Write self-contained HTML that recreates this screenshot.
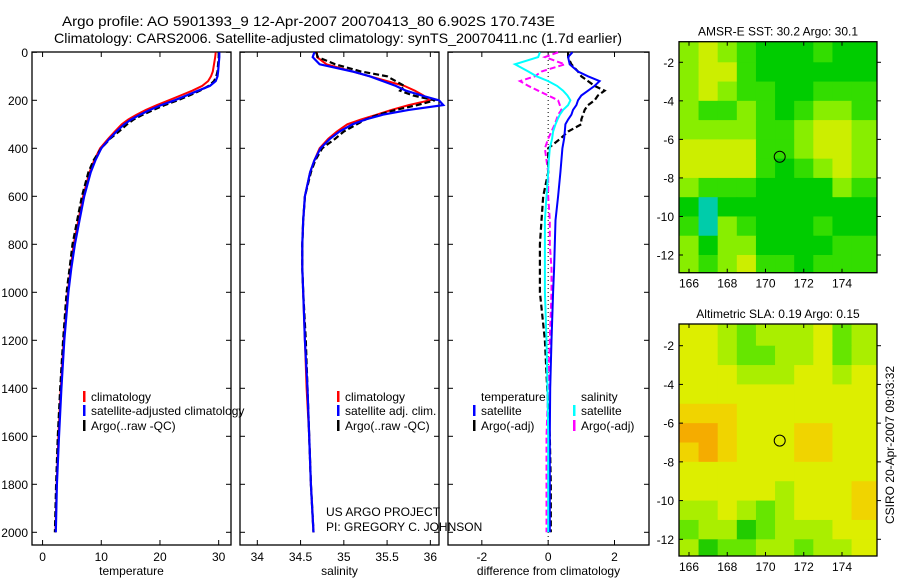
<!DOCTYPE html>
<html><head><meta charset="utf-8"><style>
html,body{margin:0;padding:0;background:#fff;width:900px;height:580px;overflow:hidden}
svg{display:block;font-family:"Liberation Sans",sans-serif}
</style></head><body>
<svg id="fig" width="900" height="580" xmlns="http://www.w3.org/2000/svg">
<text x="62" y="26" font-size="14" textLength="493" lengthAdjust="spacingAndGlyphs">Argo profile: AO 5901393_9 12-Apr-2007 20070413_80 6.902S 170.743E</text>
<text x="54" y="43" font-size="14" textLength="568" lengthAdjust="spacingAndGlyphs">Climatology: CARS2006. Satellite-adjusted climatology: synTS_20070411.nc (1.7d earlier)</text>
<g id="p1"></g>
<g id="p2"></g>
<g id="p3"></g>
<g id="m1"></g>
<g id="m2"></g>
<text transform="translate(894,445) rotate(-90)" font-size="12" text-anchor="middle">CSIRO 20-Apr-2007 09:03:32</text>
</svg>
<script>
const depths=[0,20,50,80,100,120,140,160,180,200,220,240,260,280,300,330,360,400,450,500,600,700,800,900,1000,1200,1400,1600,1800,2000];
const tempClim=[29.5,29.4,29.2,29.0,28.7,28.2,27.2,25.5,23.5,21.5,19.5,17.6,16,14.6,13.5,12.3,11.2,9.8,8.8,8.0,6.9,6.1,5.3,4.8,4.3,3.6,3.1,2.7,2.4,2.2];
const tempSat=[30.1,30.1,30.0,29.9,29.8,29.5,28.5,26.5,24.5,22.5,20.2,18.3,16.6,15.1,13.9,12.6,11.4,10.0,9.0,8.2,7.1,6.3,5.5,4.9,4.4,3.7,3.2,2.8,2.45,2.25];
const tempArgo=[30.0,30.0,29.9,29.8,29.6,29.2,28.3,26.8,25.0,23.0,20.8,18.9,17.1,15.5,14.4,13.0,11.5,10.0,8.7,7.8,6.7,5.9,5.1,4.6,4.1,3.5,3.0,2.6,2.3,2.1];
const salClim=[34.69,34.69,34.8,35.1,35.3,35.5,35.7,35.82,35.92,35.99,35.75,35.55,35.38,35.2,35.04,34.92,34.82,34.72,34.66,34.61,34.55,34.53,34.52,34.52,34.53,34.55,34.57,34.6,34.62,34.65];
const salSat=[34.66,34.64,34.72,35.1,35.3,35.45,35.6,35.72,35.9,36.1,36.15,35.75,35.45,35.25,35.1,34.95,34.84,34.73,34.66,34.61,34.55,34.53,34.52,34.52,34.53,34.55,34.58,34.6,34.62,34.65];
const salArgo=[34.68,34.7,34.9,35.2,35.5,35.6,35.7,35.65,35.8,36.05,35.85,35.6,35.4,35.25,35.15,35.0,34.9,34.75,34.67,34.62,34.55,34.53,34.52,34.52,34.53,34.56,34.58,34.6,34.62,34.65];
const dTempSat=[0.73,0.6,0.65,0.9,1.2,1.55,1.4,1.2,1.0,0.9,0.85,0.75,0.7,0.6,0.52,0.5,0.48,0.43,0.4,0.37,0.3,0.22,0.2,0.18,0.15,0.1,0.06,0.05,0.05,0.05];
const dTempArgo=[0.6,0.6,0.7,0.9,1.0,1.2,1.4,1.7,1.5,1.4,1.2,1.1,1.05,1.0,1.0,0.6,0.37,0.0,0.0,0.0,-0.15,-0.2,-0.25,-0.25,-0.25,-0.1,-0.03,0.05,0.08,0.08];
const dSalSat=[-0.25,-0.3,-1.0,-0.6,-0.35,0.0,0.27,0.45,0.58,0.67,0.6,0.45,0.35,0.28,0.22,0.15,0.12,0.05,0.02,0.0,-0.05,-0.1,-0.1,-0.1,-0.1,-0.05,-0.02,0.0,0.0,0.0];
const dSalArgo=[0.3,-0.1,0.5,-0.2,-0.4,-0.85,-0.6,-0.3,0.0,0.3,0.35,0.4,0.3,0.25,0.2,0.1,0.0,-0.1,-0.05,0.0,0.0,0.05,0.05,0.1,0.1,0.05,0.0,-0.05,-0.05,-0.05];
const depthTicks=[0,200,400,600,800,1000,1200,1400,1600,1800,2000];
const tempTicks=[0,10,20,30];
const salTicks=[34,34.5,35,35.5,36];
const diffTicks=[-2,0,2];
const sstGrid=[
[3,4,3,2,1,1,1,2,1,1],[3,4,4,2,1,1,1,1,1,1],[3,4,3,2,2,1,1,2,2,2],[3,2,2,3,2,1,2,3,3,2],
[3,3,3,3,2,2,3,4,4,3],[4,4,4,4,2,2,3,4,4,3],[4,4,4,4,2,1,2,3,4,3],[3,2,2,2,1,1,1,1,3,2],
[1,0,1,1,1,1,1,1,1,1],[2,0,3,2,1,1,1,2,1,1],[3,1,3,3,1,1,1,1,2,2],[3,2,3,4,2,2,1,2,2,2]];
const slaGrid=[
[3,3,2,1,2,2,2,3,1,2],[3,3,2,1,1,2,2,3,1,2],[3,3,3,2,2,2,3,3,2,3],[3,3,3,3,3,3,3,3,3,3],
[4,4,4,3,3,3,3,3,3,3],[5,5,4,3,3,3,4,4,3,3],[4,5,4,3,3,3,4,4,3,3],[3,3,3,3,3,3,3,3,3,3],
[3,3,3,3,3,2,3,3,3,4],[2,2,3,2,1,2,3,3,3,4],[1,2,2,0,1,2,2,2,3,3],[2,0,1,1,2,2,1,2,2,3]];
const lonTicks=[166,168,170,172,174];
const latTicks=[-2,-4,-6,-8,-10,-12];
const argoLon=170.743, argoLat=-6.902;

const NS="http://www.w3.org/2000/svg";
function mk(parent,tag,attrs,text){const e=document.createElementNS(NS,tag);for(const k in attrs)e.setAttribute(k,attrs[k]);if(text!==undefined)e.textContent=text;parent.appendChild(e);return e;}
const y=d=>52.3+d*0.24;
function panel(gid,x0,x1,xmin,xmax,xt,label,showY){
  const g=document.getElementById(gid);
  const sx=v=>x0+(v-xmin)/(xmax-xmin)*(x1-x0);
  const f=mk(g,'rect',{x:x0,y:52,width:x1-x0,height:493,fill:'none',stroke:'#000','stroke-width':1.3});
  
  
  depthTicks.forEach(d=>{
    mk(g,'line',{x1:x0,x2:x0+5,y1:y(d),y2:y(d),stroke:'#000'});
    mk(g,'line',{x1:x1,x2:x1-5,y1:y(d),y2:y(d),stroke:'#000'});
    if(showY){const t=mk(g,'text',{x:x0-4,y:y(d)+4.5,'font-size':12,'text-anchor':'end'},String(d));
      
      }
  });
  xt.forEach(v=>{
    mk(g,'line',{x1:sx(v),x2:sx(v),y1:545,y2:540,stroke:'#000'});
    mk(g,'line',{x1:sx(v),x2:sx(v),y1:52,y2:57,stroke:'#000'});
    const t=mk(g,'text',{x:sx(v),y:561,'font-size':12,'text-anchor':'middle'},String(v));
    
    
  });
  const l=mk(g,'text',{x:(x0+x1)/2,y:575,'font-size':12,'text-anchor':'middle'},label);
  
  
  return {g,sx};
}
function line(p,vals,color,dash,name,w){
  const pts=vals.map((v,i)=>p.sx(v).toFixed(1)+','+y(depths[i]).toFixed(1)).join(' ');
  const e=mk(p.g,'polyline',{points:pts,fill:'none',stroke:color,'stroke-width':w||2,'stroke-dasharray':dash||'none'});
  
  
}
function legend(g,x,yy,color,txt){
  mk(g,'rect',{x:x,y:yy-10,width:2.5,height:11,fill:color});
  const t=mk(g,'text',{x:x+8,y:yy,'font-size':12},txt);
  
  
}
const p1=panel('p1',32,231,-1.8,32.1,tempTicks,'temperature',true);
line(p1,tempClim,'#f00',null,'temp-climatology-line');
line(p1,tempArgo,'#000','6,3','temp-argo-line',2.2);
line(p1,tempSat,'#00f',null,'temp-satellite-line',2.2);
legend(p1.g,83,401,'#f00','climatology');
legend(p1.g,83,415,'#00f','satellite-adjusted climatology');
legend(p1.g,83,430,'#000','Argo(..raw -QC)');

const p2=panel('p2',240,439,33.8,36.1,salTicks,'salinity',false);
line(p2,salClim,'#f00',null,'sal-climatology-line');
line(p2,salArgo,'#000','6,3','sal-argo-line',2.2);
line(p2,salSat,'#00f',null,'sal-satellite-line',2.2);
legend(p2.g,337,401,'#f00','climatology');
legend(p2.g,337,415,'#00f','satellite adj. clim.');
legend(p2.g,337,430,'#000','Argo(..raw -QC)');
mk(p2.g,'text',{x:326,y:516,'font-size':12},'US ARGO PROJECT');
mk(p2.g,'text',{x:326,y:531,'font-size':12},'PI: GREGORY C. JOHNSON');

const p3=panel('p3',448,649,-3.02,3.04,diffTicks,'difference from climatology',false);
mk(p3.g,'line',{x1:p3.sx(0),x2:p3.sx(0),y1:52,y2:545,stroke:'#000','stroke-dasharray':'1,3'});
line(p3,dSalArgo,'#f0f','6,3','diff-sal-argo-line');
line(p3,dTempArgo,'#000','6,3','diff-temp-argo-line',2.2);
line(p3,dTempSat,'#00f',null,'diff-temp-satellite-line');
line(p3,dSalSat,'#0ff',null,'diff-sal-satellite-line');
mk(p3.g,'text',{x:481,y:401,'font-size':12},'temperature');
legend(p3.g,473,415,'#00f','satellite');
legend(p3.g,473,430,'#000','Argo(-adj)');
mk(p3.g,'text',{x:581,y:401,'font-size':12},'salinity');
legend(p3.g,573,415,'#0ff','satellite');
legend(p3.g,573,430,'#f0f','Argo(-adj)');

function map(gid,grid,colors,top,bottom,title,lat2y,lat12y){
  const g=document.getElementById(gid);
  const x0=679,x1=877;
  const lx=lon=>689+(lon-166)*19.125;
  const ly=lat=>lat2y+(lat+2)*(lat12y-lat2y)/(-10);
  const lonMin=165.5, latMax=-1;
  const rows=grid.length, cols=grid[0].length;
  grid.forEach((row,r)=>row.forEach((v,c)=>{
    const xa=Math.max(x0,lx(lonMin+c)), xb=c==cols-1?x1:lx(lonMin+c+1);
    const ya=r==0?top:ly(latMax-r), yb=r==rows-1?bottom:ly(latMax-r-1);
    const e=mk(g,'rect',{x:xa,y:ya,width:xb-xa+0.5,height:yb-ya+0.5,fill:colors[v]});
    
    
  }));
  const f=mk(g,'rect',{x:x0,y:top,width:x1-x0,height:bottom-top,fill:'none',stroke:'#000','stroke-width':1.3});
  
  
  lonTicks.forEach(v=>{
    mk(g,'line',{x1:lx(v),x2:lx(v),y1:bottom,y2:bottom-4,stroke:'#000'});
    mk(g,'line',{x1:lx(v),x2:lx(v),y1:top,y2:top+4,stroke:'#000'});
    mk(g,'text',{x:lx(v),y:bottom+15,'font-size':12,'text-anchor':'middle'},String(v));
  });
  latTicks.forEach(v=>{
    mk(g,'line',{x1:x0,x2:x0+4,y1:ly(v),y2:ly(v),stroke:'#000'});
    mk(g,'line',{x1:x1,x2:x1+4,y1:ly(v),y2:ly(v),stroke:'#000'});
    mk(g,'text',{x:x0-5,y:ly(v)+4.5,'font-size':12,'text-anchor':'end'},String(v));
  });
  const c=mk(g,'circle',{cx:lx(argoLon),cy:ly(argoLat),r:5.5,fill:'none',stroke:'#000','stroke-width':1});
  
  
  const t=mk(g,'text',{x:778,y:top-6,'font-size':12,'text-anchor':'middle'},title);
  
  
}
map('m1',sstGrid,['#00ccaa','#00cc00','#33dd00','#88ee00','#ccee00'],41.7,272.7,'AMSR-E SST: 30.2 Argo: 30.1',62.3,255);
map('m2',slaGrid,['#22cc00','#66e600','#aaee00','#ddee00','#f0d400','#f5ac00'],324,556,'Altimetric SLA: 0.19 Argo: 0.15',345.7,539.3);
</script>
</body></html>
